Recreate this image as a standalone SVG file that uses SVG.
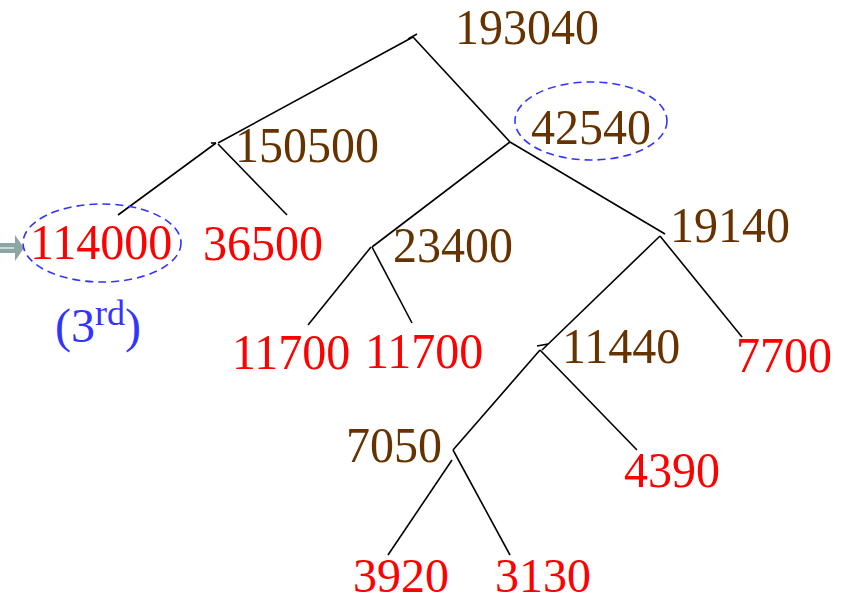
<svg xmlns="http://www.w3.org/2000/svg" width="847" height="603" viewBox="0 0 847 603">
<style>
text{font-family:"Liberation Serif","Times New Roman",serif;font-size:48px}
.b{fill:#663300}
.r{fill:#ff0000}
.bl{fill:#3333ff}
.ov{fill:none;stroke:#3333ff;stroke-width:1.6;stroke-dasharray:8 5}
#connectors line{stroke:#000;stroke-width:1.6}
</style>
<rect width="847" height="603" fill="#fff"/>
<g id="connectors">
<line x1="413" y1="37" x2="218" y2="143"/>
<line x1="413" y1="37" x2="510" y2="142"/>
<line x1="408" y1="39" x2="417" y2="34"/>
<line x1="216" y1="143" x2="118" y2="215"/>
<line x1="218" y1="144" x2="287" y2="215"/>
<line x1="211" y1="143" x2="216" y2="143"/>
<line x1="510" y1="142" x2="372" y2="247"/>
<line x1="510" y1="142" x2="665" y2="234"/>
<line x1="371" y1="247" x2="308" y2="325"/>
<line x1="372" y1="247" x2="412" y2="323"/>
<line x1="660" y1="236" x2="542" y2="350"/>
<line x1="660" y1="236" x2="742" y2="337"/>
<line x1="540" y1="350" x2="453" y2="450"/>
<line x1="540" y1="350" x2="637" y2="450"/>
<line x1="537" y1="346" x2="548" y2="344"/>
<line x1="452" y1="460" x2="388" y2="555"/>
<line x1="453" y1="450" x2="510" y2="555"/>
</g>
<g id="arrow">
<polygon points="0,243 15,243 15,235 24,248 15,261 15,253 0,253" fill="#8ca6a3"/>
<line x1="0" y1="248" x2="14" y2="248" stroke="#c9dcdc" stroke-width="2"/>
</g>
<g id="n193040"><text class="b" transform="translate(455,44) scale(1,1.05)">193040</text></g>
<g id="n42540"><ellipse class="ov" cx="591" cy="121" rx="76" ry="39"/><text class="b" transform="translate(531,144) scale(1,1.05)">42540</text></g>
<g id="n150500"><text class="b" transform="translate(235,162) scale(1,1.05)">150500</text></g>
<g id="n114000"><ellipse class="ov" cx="102" cy="243" rx="79" ry="39"/><text class="r" transform="translate(30,259) scale(1,1.05)">114000</text></g>
<g id="n36500"><text class="r" transform="translate(203,260) scale(1,1.05)">36500</text></g>
<g id="n23400"><text class="b" transform="translate(393,262) scale(1,1.05)">23400</text></g>
<g id="n19140"><text class="b" transform="translate(670,242) scale(1,1.05)">19140</text></g>
<g id="n11700a"><text class="r" transform="translate(232,369) scale(1,1.05)">11700</text></g>
<g id="n11700b"><text class="r" transform="translate(365,368) scale(1,1.05)">11700</text></g>
<g id="n11440"><text class="b" transform="translate(562,363) scale(1,1.05)">11440</text></g>
<g id="n7700"><text class="r" transform="translate(736,372) scale(1,1.05)">7700</text></g>
<g id="n4390"><text class="r" transform="translate(624,487) scale(1,1.05)">4390</text></g>
<g id="n7050"><text class="b" transform="translate(346,462) scale(1,1.05)">7050</text></g>
<g id="n3920"><text class="r" x="353" y="592">3920</text></g>
<g id="n3130"><text class="r" x="495" y="592">3130</text></g>
<g id="label3rd"><text class="bl" x="55" y="342" font-size="52">(3<tspan font-size="36" dy="-17">rd</tspan><tspan dy="17">)</tspan></text></g>
</svg>
